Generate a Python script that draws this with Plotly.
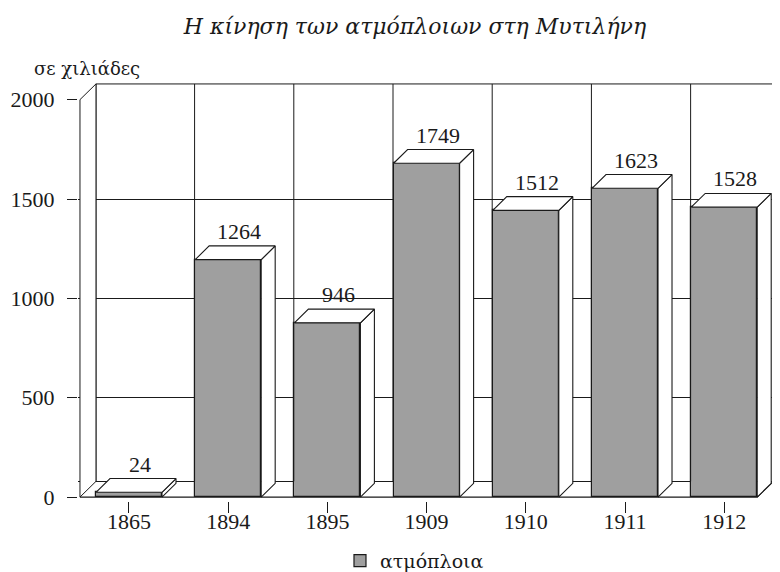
import plotly.graph_objects as go

# ---------------- data ----------------
years = ["1865", "1894", "1895", "1909", "1910", "1911", "1912"]
steamships = [24, 1264, 946, 1749, 1512, 1623, 1528]
y_tick_values = [0, 500, 1000, 1500, 2000]
y_tick_labels = ["0", "500", "1000", "1500", "2000"]

title_text = "Η κίνηση των ατμόπλοιων στη Μυτιλήνη"
unit_text = "σε χιλιάδες"
series_name = "ατμόπλοια"

# ---------------- layout geometry ----------------
W, H = 780, 572
ML, MR, MT, MB = 70, 0, 73, 71
plot_w, plot_h = W - ML - MR, H - MT - MB
XMIN, XMAX = -0.514, 6.643
YMIN, YMAX = -19.75, 2093.8
ppx = plot_w / (XMAX - XMIN)     # pixels per category unit
ppy = plot_h / (YMAX - YMIN)     # pixels per value unit

WALL_DX, WALL_DY = 16 / ppx, 16 / ppy     # depth of floor / walls
BAR_DX, BAR_DY = 14 / ppx, 14 / ppy       # depth of bars
BAR_W = 66 / ppx
LEFT_WALL_X = -0.494
TOP_VALUE = y_tick_values[-1]

NUM_FONT = "Liberation Serif, DejaVu Serif, serif"
GREEK_FONT = "DejaVu Serif, Liberation Serif, serif"
INK = "#1a1a1a"
BAR_GRAY = "#9f9f9f"

n = len(years)
idx = list(range(n))

# front faces: the rear edge of each box's top face reads the value
front = [v - BAR_DY if v > BAR_DY else v for v in steamships]

fig = go.Figure()

fig.add_trace(go.Bar(
    x=idx, y=front, width=BAR_W, name=series_name,
    marker=dict(color=BAR_GRAY, line=dict(color=INK, width=1.2)),
    customdata=steamships, hovertemplate="%{customdata}<extra></extra>",
))

# back wall outline and vertical lines
bx, by = [], []
bx += [LEFT_WALL_X + WALL_DX, XMAX + 1, None]
by += [TOP_VALUE + WALL_DY, TOP_VALUE + WALL_DY, None]
bx += [LEFT_WALL_X + WALL_DX, LEFT_WALL_X + WALL_DX, None]
by += [WALL_DY, TOP_VALUE + WALL_DY, None]
for i in idx:
    xv = i + 0.5 + WALL_DX
    bx += [xv, xv, None]
    by += [WALL_DY, TOP_VALUE + WALL_DY, None]
fig.add_trace(go.Scatter(x=bx, y=by, mode="lines", line=dict(color=INK, width=1),
                         showlegend=False, hoverinfo="skip"))

# left wall
fig.add_trace(go.Scatter(
    x=[LEFT_WALL_X, LEFT_WALL_X, LEFT_WALL_X + WALL_DX, LEFT_WALL_X + WALL_DX, LEFT_WALL_X],
    y=[0, TOP_VALUE, TOP_VALUE + WALL_DY, WALL_DY, 0],
    mode="lines", fill="toself", fillcolor="white", line=dict(color=INK, width=1),
    showlegend=False, hoverinfo="skip"))

# floor front edge and right edge
floor_right = (n - 1) + BAR_W / 2
fig.add_trace(go.Scatter(
    x=[LEFT_WALL_X, floor_right, floor_right + WALL_DX * 2],
    y=[0, 0, WALL_DY * 2],
    mode="lines", line=dict(color=INK, width=1.2), showlegend=False, hoverinfo="skip"))

# side faces and top faces of boxes
sx, sy, tx, ty = [], [], [], []
for i, h in zip(idx, front):
    xl, xr = i - BAR_W / 2, i + BAR_W / 2
    sx += [xr, xr, xr + BAR_DX, xr + BAR_DX, xr, None]
    sy += [0, h, h + BAR_DY, BAR_DY, 0, None]
    tx += [xl, xr, xr + BAR_DX, xl + BAR_DX, xl, None]
    ty += [h, h, h + BAR_DY, h + BAR_DY, h, None]
for px_, py_ in ((sx, sy), (tx, ty)):
    fig.add_trace(go.Scatter(x=px_, y=py_, mode="lines", fill="toself", fillcolor="white",
                             line=dict(color=INK, width=1.1), showlegend=False,
                             hoverinfo="skip"))

# value labels
for i, v, h in zip(idx, steamships, front):
    fig.add_annotation(x=i, y=h + BAR_DY, text=str(v), showarrow=False,
                       xshift=11, yshift=0, yanchor="bottom",
                       font=dict(family=NUM_FONT, size=22, color=INK))

fig.add_annotation(xref="paper", yref="paper", x=(24 - ML) / plot_w, y=(H - MB - 60) / plot_h,
                   xanchor="left", yanchor="middle", text=unit_text, showarrow=False,
                   font=dict(family=GREEK_FONT, size=18, color=INK))

fig.update_layout(
    width=W, height=H,
    margin=dict(l=ML, r=MR, t=MT, b=MB),
    paper_bgcolor="white", plot_bgcolor="white",
    title=dict(text="<i>" + title_text + "</i>", x=407 / W, xref="container", xanchor="center",
               y=1 - 18 / H, yref="container", yanchor="middle",
               font=dict(family=GREEK_FONT, size=22, color=INK)),
    showlegend=True,
    legend=dict(orientation="h", x=0.369, xanchor="left", y=-0.1425, yanchor="middle",
                font=dict(family=GREEK_FONT, size=19, color=INK), bgcolor="rgba(0,0,0,0)"),
    bargap=0,
)
fig.update_xaxes(range=[XMIN, XMAX], tickmode="array", tickvals=idx, ticktext=years,
                 ticks="outside", ticklen=11, tickcolor=INK, tickwidth=1,
                 showgrid=False, zeroline=False, showline=False, ticklabelstandoff=-10,
                 tickfont=dict(family=NUM_FONT, size=22, color=INK), fixedrange=True)
fig.update_yaxes(range=[YMIN, YMAX], tickmode="array", tickvals=y_tick_values,
                 ticktext=y_tick_labels, ticks="outside", ticklen=10, tickcolor=INK,
                 tickwidth=1, showgrid=False, zeroline=False, showline=False,
                 ticklabelstandoff=8,
                 minor=dict(tickmode="array", tickvals=[WALL_DY, 500, 1000, 1500],
                            showgrid=True, gridcolor=INK, gridwidth=1, ticks=""),
                 tickfont=dict(family=NUM_FONT, size=22, color=INK), fixedrange=True)

fig.write_html("out.html")
